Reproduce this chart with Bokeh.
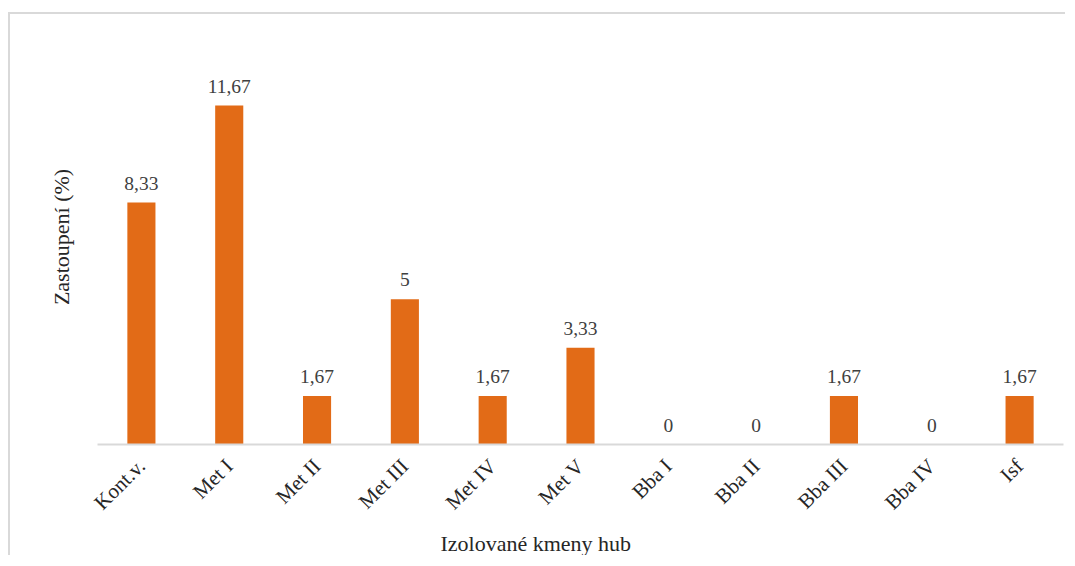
import math
from bokeh.plotting import figure
from bokeh.models import ColumnDataSource, Range1d, FixedTicker, LabelSet, Title
from bokeh.embed import file_html
from bokeh.resources import INLINE

categories = ["Kont.v.", "Met I", "Met II", "Met III", "Met IV", "Met V",
              "Bba I", "Bba II", "Bba III", "Bba IV", "Isf"]
values = [8.33, 11.67, 1.67, 5, 1.67, 3.33, 0, 0, 1.67, 0, 1.67]
value_labels = ["8,33", "11,67", "1,67", "5", "1,67", "3,33", "0", "0", "1,67", "0", "1,67"]

FONT = "Liberation Serif"

src = ColumnDataSource(dict(cat=categories, val=values, lab=value_labels))

p = figure(x_range=categories, y_range=Range1d(0, 14.29),
           width=1057, height=543, output_backend="svg", toolbar_location=None,
           min_border_left=87, min_border_right=4, min_border_top=15,
           min_border_bottom=10)
p.styles = {"border-top": "2px solid #d9d9d9", "border-left": "2px solid #d9d9d9",
            "margin-top": "12px", "margin-left": "8px"}

p.vbar(x="cat", top="val", width=0.32, source=src, fill_color="#E26B17",
       line_color=None)

labels = LabelSet(x="cat", y="val", text="lab", source=src, text_align="center",
                  text_baseline="bottom", y_offset=13, text_font=FONT,
                  text_font_size="19.5px", text_color="#404040")
p.add_layout(labels)

p.outline_line_color = None
p.grid.grid_line_color = None
p.background_fill_color = "white"
p.border_fill_color = "white"

xa = p.xaxis[0]
xa.axis_line_color = "#d9d9d9"
xa.axis_line_width = 2
xa.major_tick_line_color = None
xa.minor_tick_line_color = None
xa.major_label_orientation = math.pi / 4
xa.major_label_text_font = FONT
xa.major_label_text_font_size = "21px"
xa.major_label_text_color = "#262626"
xa.major_label_standoff = 12

xtitle = Title(text="Izolované kmeny hub", align="left", offset=343,
               text_font=FONT, text_font_size="22px", text_font_style="normal",
               text_color="#262626", standoff=4)
p.add_layout(xtitle, "below")

ya = p.yaxis[0]
ya.ticker = FixedTicker(ticks=[])
ya.axis_line_color = None
ya.major_tick_line_color = None
ya.minor_tick_line_color = None
ya.major_label_text_font_size = "0px"
ya.axis_label = "Zastoupení (%)"
ya.axis_label_text_font = FONT
ya.axis_label_text_font_size = "22px"
ya.axis_label_text_font_style = "normal"
ya.axis_label_text_color = "#262626"
ya.axis_label_standoff = 24

open("out.html", "w").write(file_html(p, INLINE))
